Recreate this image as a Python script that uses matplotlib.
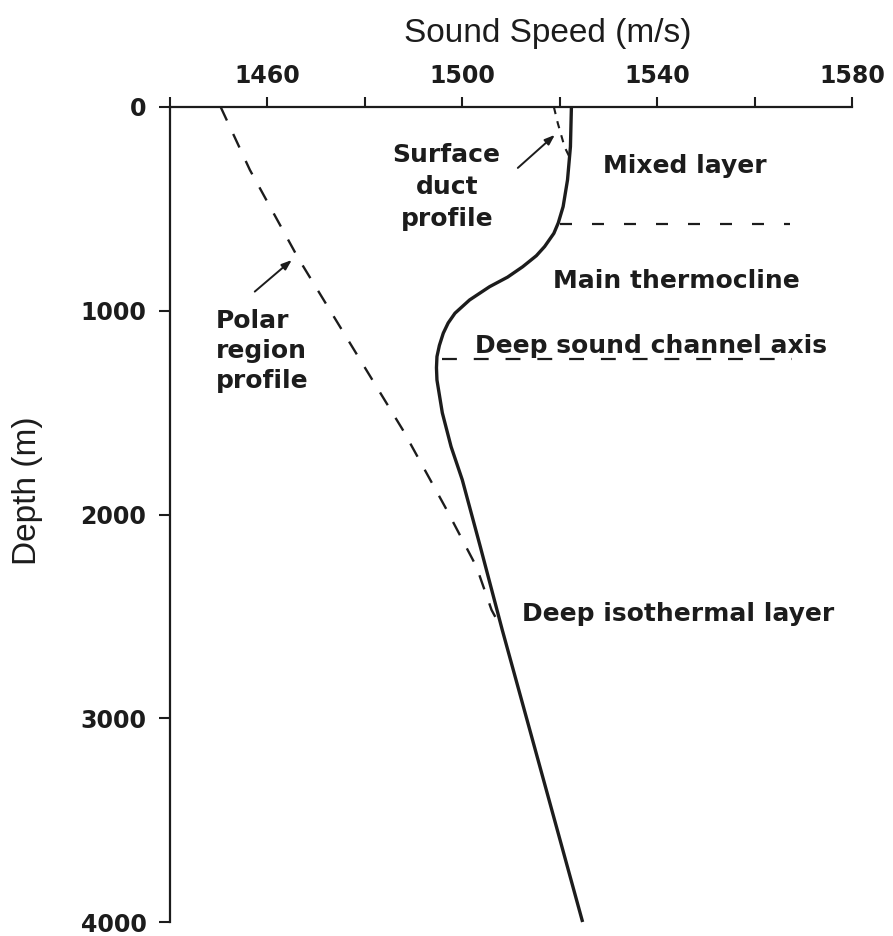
import matplotlib
matplotlib.use("Agg")
import matplotlib.pyplot as plt
from matplotlib.ticker import FixedLocator, FixedFormatter

# ---------------- data ----------------
# main (mid-latitude) sound speed profile
main_depth = [0, 195, 358, 489, 569, 620, 685, 730, 784, 835, 882, 947, 1012,
              1060, 1110, 1170, 1225, 1280, 1340, 1501, 1667, 1830,
              2158, 2566, 3000, 4000]
main_speed = [1522.4, 1522.2, 1521.6, 1520.7, 1519.7, 1518.8, 1516.9, 1515.2,
              1512.4, 1509.3, 1505.6, 1501.5, 1498.5, 1497.1, 1496.1, 1495.3,
              1494.8, 1494.7, 1494.8, 1495.9, 1497.7, 1500.0,
              1503.7, 1508.2, 1513.2, 1524.7]

# polar region profile (dashed)
polar_depth = [0, 309, 741, 1585, 1977, 2256, 2468, 2566]
polar_speed = [1450.4, 1456.4, 1466.3, 1487.8, 1496.8, 1502.9, 1506.0, 1508.2]

# surface duct profile (short dashed)
duct_depth = [0, 79, 196, 250]
duct_speed = [1518.8, 1519.6, 1521.0, 1522.1]

# layer boundaries
mixed_layer_depth = 574
channel_axis_depth = 1236

# axes
x_ticks = [1440, 1460, 1480, 1500, 1520, 1540, 1560, 1580]
x_tick_labels = ["", "1460", "", "1500", "", "1540", "", "1580"]
y_ticks = [0, 1000, 2000, 3000, 4000]
y_tick_labels = ["0", "1000", "2000", "3000", "4000"]

# ---------------- figure ----------------
W, H = 893, 936
fig = plt.figure(figsize=(W / 100, H / 100), dpi=100)
fig.patch.set_facecolor("white")

ax_l, ax_r, ax_t, ax_b = 170, 852, 107, 922
ax = fig.add_axes([ax_l / W, 1 - ax_b / H, (ax_r - ax_l) / W, (ax_b - ax_t) / H])
ax.set_facecolor("white")

ink = "#1c1c1c"
lab_font = dict(family="DejaVu Sans", weight="bold", size=17, color=ink)
ann_font = dict(family="DejaVu Sans", weight="bold", size=18, color=ink)
title_font = dict(family="Liberation Sans", size=24, color=ink)

ax.set_xlim(1440, 1580)
ax.set_ylim(4000, 0)

for s in ["right", "bottom"]:
    ax.spines[s].set_visible(False)
for s in ["top", "left"]:
    ax.spines[s].set_linewidth(1.6)
    ax.spines[s].set_color(ink)

ax.xaxis.tick_top()
ax.xaxis.set_label_position("top")
ax.xaxis.set_major_locator(FixedLocator(x_ticks))
ax.xaxis.set_major_formatter(FixedFormatter(x_tick_labels))
ax.yaxis.set_major_locator(FixedLocator(y_ticks))
ax.yaxis.set_major_formatter(FixedFormatter(y_tick_labels))
ax.tick_params(axis="x", direction="out", length=7, width=1.5, color=ink, pad=7)
ax.tick_params(axis="y", direction="out", length=8, width=1.5, color=ink, pad=9)
for t in ax.get_xticklabels() + ax.get_yticklabels():
    t.set_fontfamily(lab_font["family"])
    t.set_fontweight(lab_font["weight"])
    t.set_fontsize(lab_font["size"])
    t.set_color(ink)

ax.set_xlabel("Sound Speed (m/s)", va="center", **title_font)
ax.xaxis.set_label_coords((548 - ax_l) / (ax_r - ax_l), (ax_b - 33) / (ax_b - ax_t))
ax.set_ylabel("Depth (m)", va="center", **title_font)
ax.yaxis.set_label_coords((28 - ax_l) / (ax_r - ax_l), (ax_b - 491) / (ax_b - ax_t))

# ---------------- profiles ----------------
ax.plot(main_speed, main_depth, color=ink, lw=2.4, solid_capstyle="butt",
        solid_joinstyle="round", clip_on=False, zorder=4)
ax.plot(polar_speed, polar_depth, color=ink, lw=1.7, dashes=(6.3, 6.3),
        clip_on=False, zorder=3)
ax.plot(duct_speed, duct_depth, color=ink, lw=1.5, dashes=(3.5, 3.5),
        clip_on=False, zorder=3)

# layer boundary dashed lines
ax.plot([1520.0, 1567.2], [mixed_layer_depth, mixed_layer_depth], color=ink,
        lw=1.6, dashes=(5.4, 9.0), zorder=3)
ax.plot([1495.8, 1567.6], [channel_axis_depth, channel_axis_depth], color=ink,
        lw=1.6, dashes=(6.7, 7.6), zorder=3)

# ---------------- annotations ----------------
ax.text(1528.8, 290, "Mixed layer", ha="left", va="center", **ann_font)
ax.text(1518.6, 854, "Main thermocline", ha="left", va="center", **ann_font)
ax.text(1502.6, 1205, "Deep sound channel axis", ha="left", va="baseline", **ann_font)
ax.text(1512.2, 2488, "Deep isothermal layer", ha="left", va="center", **ann_font)
ax.text(1496.8, 393, "Surface\nduct\nprofile", ha="center", va="center",
        multialignment="center", linespacing=1.4, **ann_font)
ax.text(1449.4, 1197, "Polar\nregion\nprofile", ha="left", va="center",
        multialignment="left", linespacing=1.3, **ann_font)

arrow = dict(arrowstyle="-|>,head_length=0.6,head_width=0.22", color=ink, lw=1.4,
             shrinkA=0, shrinkB=0)
ax.annotate("", xy=(1465.0, 751), xytext=(1457.4, 906), arrowprops=arrow, zorder=5)
ax.annotate("", xy=(1519.0, 137), xytext=(1511.4, 299), arrowprops=arrow, zorder=5)

fig.savefig("out.png", dpi=100, facecolor="white")
